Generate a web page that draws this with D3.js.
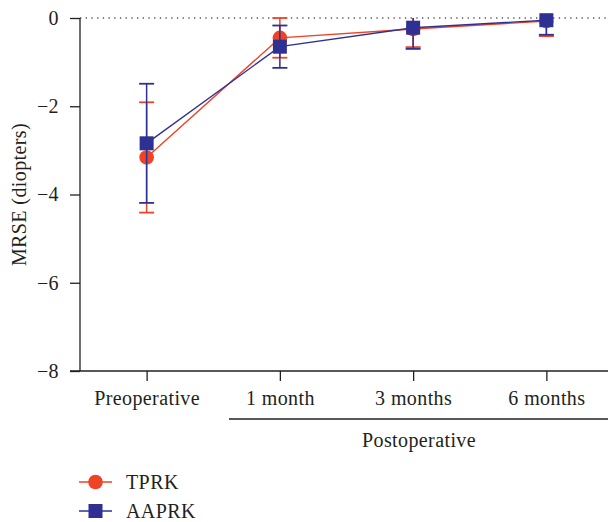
<!DOCTYPE html>
<html>
<head>
<meta charset="utf-8">
<script src="https://cdn.jsdelivr.net/npm/d3@7"></script>
<style>
  body { margin: 0; background: #fff; }
  text { font-family: "Liberation Serif", "Times New Roman", serif; fill: #231f20; letter-spacing: 0.4px; }
</style>
</head>
<body>
<script>
// data
var timepoints = ["Preoperative", "1 month", "3 months", "6 months"];
var tprkMean = [-3.16, -0.45, -0.25, -0.07];
var tprkSd = [1.25, 0.45, 0.41, 0.34];
var aaprkMean = [-2.84, -0.65, -0.22, -0.05];
var aaprkSd = [1.35, 0.48, 0.48, 0.33];
var yTicks = [0, -2, -4, -6, -8];

var width = 608, height = 522;
var red = "#ee4326", blue = "#2e3192", ink = "#231f20";
var fs = 20;

var svg = d3.select("body").append("svg")
    .attr("width", width)
    .attr("height", height);

// scales
var x = d3.scalePoint().domain(timepoints).range([80, 613]).padding(0.5);
var y = d3.scaleLinear().domain([-8, 0]).range([371, 18]);

// dotted zero line
svg.append("line")
    .attr("x1", 80).attr("x2", width)
    .attr("y1", y(0)).attr("y2", y(0))
    .attr("stroke", "#555").attr("stroke-width", 1.3)
    .attr("stroke-dasharray", "1.3,4.4");

// y axis
var yAxis = svg.append("g")
    .attr("transform", "translate(80,0)")
    .call(d3.axisLeft(y).tickValues(yTicks).tickSize(10).tickPadding(11)
        .tickFormat(function(d) { return d === 0 ? "0" : "\u2212" + Math.abs(d); }));
yAxis.select(".domain").attr("stroke", ink).attr("stroke-width", 1.3).attr("d", "M0," + y(-8) + "V" + y(0));
yAxis.selectAll(".tick line").attr("stroke", ink).attr("stroke-width", 1.3);
yAxis.selectAll(".tick text").attr("font-size", fs).attr("fill", ink)
    .style("font-family", "Liberation Serif, serif");

// x axis
var xAxis = svg.append("g")
    .attr("transform", "translate(0," + y(-8) + ")")
    .call(d3.axisBottom(x).tickSize(10).tickPadding(10));
xAxis.select(".domain").attr("stroke", ink).attr("stroke-width", 1.3).attr("d", "M70,0H" + width);
xAxis.selectAll(".tick line").attr("stroke", ink).attr("stroke-width", 1.3);
xAxis.selectAll(".tick text").attr("font-size", fs).attr("fill", ink)
    .style("font-family", "Liberation Serif, serif");

// postoperative bracket
svg.append("line")
    .attr("x1", 229).attr("x2", width)
    .attr("y1", 419).attr("y2", 419)
    .attr("stroke", ink).attr("stroke-width", 1.3);
svg.append("text")
    .attr("x", 419).attr("y", 447)
    .attr("text-anchor", "middle")
    .attr("font-size", fs)
    .text("Postoperative");

// y title
svg.append("text")
    .attr("transform", "translate(26," + y(-4) + ") rotate(-90)")
    .attr("text-anchor", "middle")
    .attr("font-size", fs)
    .text("MRSE (diopters)");

function drawSeries(mean, sd, color, shape) {
    var g = svg.append("g");
    var line = d3.line()
        .x(function(d, i) { return x(timepoints[i]); })
        .y(function(d) { return y(d); });
    g.append("path")
        .datum(mean)
        .attr("d", line)
        .attr("fill", "none")
        .attr("stroke", color)
        .attr("stroke-width", 1.4);

    mean.forEach(function(m, i) {
        var cx = x(timepoints[i]);
        var hi = m + sd[i], lo = m - sd[i];
        var top = Math.min(hi, 0);
        g.append("line")
            .attr("x1", cx).attr("x2", cx)
            .attr("y1", y(top)).attr("y2", y(lo))
            .attr("stroke", color).attr("stroke-width", 1.5);
        g.append("line")
            .attr("x1", cx - 7.5).attr("x2", cx + 7.5)
            .attr("y1", y(lo)).attr("y2", y(lo))
            .attr("stroke", color).attr("stroke-width", 1.8);
        if (hi <= 0) {
            g.append("line")
                .attr("x1", cx - 7.5).attr("x2", cx + 7.5)
                .attr("y1", y(hi)).attr("y2", y(hi))
                .attr("stroke", color).attr("stroke-width", 1.8);
        }
        if (shape === "circle") {
            g.append("circle")
                .attr("cx", cx).attr("cy", y(m)).attr("r", 7.3)
                .attr("fill", color);
        } else {
            g.append("rect")
                .attr("x", cx - 7).attr("y", y(m) - 7)
                .attr("width", 14).attr("height", 14)
                .attr("fill", color);
        }
    });
}

drawSeries(tprkMean, tprkSd, red, "circle");
drawSeries(aaprkMean, aaprkSd, blue, "square");

// legend
var legend = [
    {name: "TPRK", color: red, shape: "circle", y: 482},
    {name: "AAPRK", color: blue, shape: "square", y: 511}
];
legend.forEach(function(l) {
    svg.append("line")
        .attr("x1", 79).attr("x2", 112)
        .attr("y1", l.y).attr("y2", l.y)
        .attr("stroke", l.color).attr("stroke-width", 1.4);
    if (l.shape === "circle") {
        svg.append("circle").attr("cx", 95.5).attr("cy", l.y).attr("r", 7.3).attr("fill", l.color);
    } else {
        svg.append("rect").attr("x", 88.5).attr("y", l.y - 7).attr("width", 14).attr("height", 14).attr("fill", l.color);
    }
    svg.append("text")
        .attr("x", 126).attr("y", l.y + 7)
        .attr("font-size", fs)
        .text(l.name);
});
</script>
</body>
</html>
